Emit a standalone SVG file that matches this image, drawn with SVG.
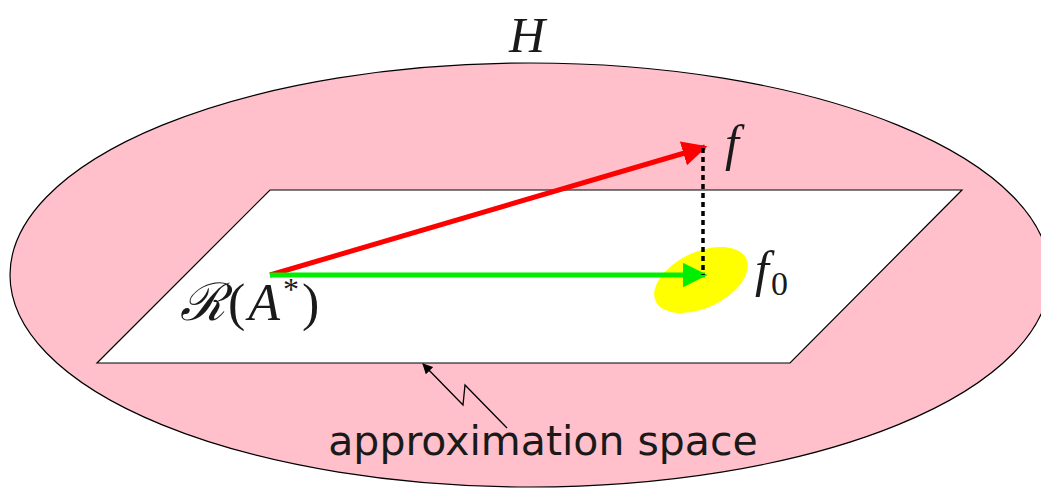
<svg xmlns="http://www.w3.org/2000/svg" width="1041" height="488" viewBox="0 0 1041 488">
<style>
.m{font-family:"Liberation Serif","DejaVu Serif",serif;fill:#1a1a1a}
.s{font-family:"DejaVu Sans","Liberation Sans",sans-serif;fill:#1a1a1a}
</style>
<defs>
<marker id="ar" viewBox="0 0 10 10" refX="9" refY="5" markerWidth="5" markerHeight="5" markerUnits="strokeWidth" orient="auto"><path d="M0,0L10,5L0,10z" fill="red"/></marker>
<marker id="ag" viewBox="0 0 10 10" refX="9" refY="5" markerWidth="5" markerHeight="5" markerUnits="strokeWidth" orient="auto"><path d="M0,0L10,5L0,10z" fill="#00ee00"/></marker>
<marker id="ak" viewBox="0 0 10 10" refX="9" refY="5" markerWidth="8" markerHeight="8" markerUnits="strokeWidth" orient="auto"><path d="M0,0L10,5L0,10z" fill="#000"/></marker>
</defs>
<g id="space-H">
<ellipse cx="530" cy="275" rx="520" ry="212" fill="#ffc0cb" stroke="#000" stroke-width="1.2"/>
<text class="m" x="527" y="52" font-size="50" font-style="italic" text-anchor="middle">H</text>
</g>
<g id="plane">
<polygon points="270,190 962,190 790,363 97,363" fill="#fff" stroke="#000" stroke-width="1.2"/>
</g>
<g id="f0-region">
<ellipse cx="701" cy="280" rx="50" ry="28" transform="rotate(-25 701 280)" fill="#ffff00"/>
<text class="m" x="755" y="286" font-size="50" font-style="italic">f<tspan font-size="34" font-style="normal" dx="2" dy="9">0</tspan></text>
</g>
<g id="f-label"><text class="m" x="725" y="160" font-size="50" font-style="italic">f</text></g>
<g id="RA-label"><text class="m" x="180" y="320" font-size="52" letter-spacing="3"><tspan font-style="italic">ℛ</tspan>(<tspan font-style="italic">A</tspan><tspan font-size="32" dy="-20">*</tspan><tspan dy="20">)</tspan></text></g>
<g id="connectors">
<line x1="270" y1="275" x2="705" y2="147" stroke="red" stroke-width="5" marker-end="url(#ar)"/>
<line x1="270" y1="275" x2="705" y2="275" stroke="#00ee00" stroke-width="5" marker-end="url(#ag)"/>
<line x1="703" y1="148" x2="703" y2="275" stroke="#000" stroke-width="3.5" stroke-dasharray="5,4"/>
<polyline points="507,428 465,385 463,405 423,364" fill="none" stroke="#000" stroke-width="1.3" marker-end="url(#ak)"/>
</g>
<g id="caption"><text class="s" x="543" y="455" font-size="41" text-anchor="middle">approximation space</text></g>
</svg>
